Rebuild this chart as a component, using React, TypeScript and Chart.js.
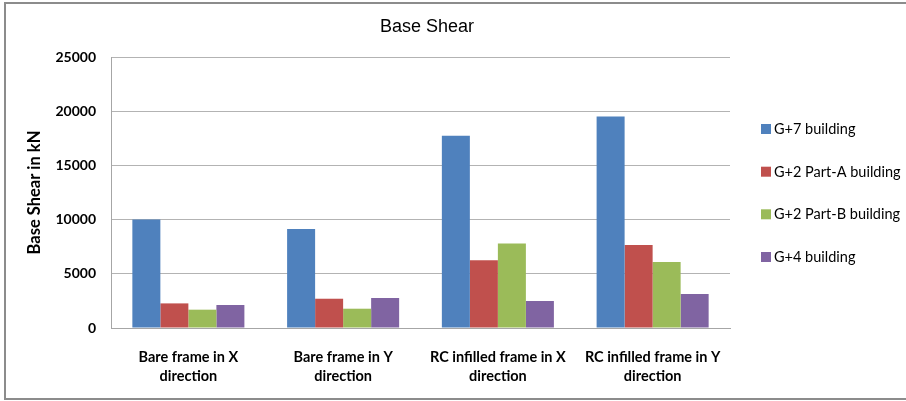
import React, { useEffect, useRef } from "react";
import { Chart, registerables } from "chart.js";

Chart.register(...registerables);

const categories: string[][] = [
  ["Bare frame in X", "direction"],
  ["Bare frame in Y", "direction"],
  ["RC infilled frame in X", "direction"],
  ["RC infilled frame in Y", "direction"],
];

const seriesNames = [
  "G+7 building",
  "G+2 Part-A building",
  "G+2 Part-B building",
  "G+4 building",
];

const g7Values = [10000, 9130, 17740, 19520];
const g2aValues = [2270, 2700, 6240, 7660];
const g2bValues = [1690, 1780, 7800, 6090];
const g4Values = [2120, 2770, 2490, 3140];

const seriesColors = ["#4F81BD", "#C0504D", "#9BBB59", "#8064A2"];

const yTicks = [0, 5000, 10000, 15000, 20000, 25000];

const chartTitle = "Base Shear";
const yAxisTitle = "Base Shear in kN";

const W = 906;
const H = 401;

// Outer frame, chart title and the right-hand legend
const decorations = {
  id: "decorations",
  afterDraw(chart: any) {
    const ctx = chart.ctx as CanvasRenderingContext2D;
    ctx.save();
    ctx.strokeStyle = "#8c8c8c";
    ctx.lineWidth = 2;
    ctx.strokeRect(5, 3, W + 10, 396);

    ctx.fillStyle = "#000";
    ctx.font = "18px 'Liberation Sans', Arial, sans-serif";
    ctx.textAlign = "center";
    ctx.textBaseline = "alphabetic";
    ctx.fillText(chartTitle, 427, 32);

    const rows = [129, 171.7, 214.3, 257];
    ctx.font = "14.5px Lato, sans-serif";
    ctx.textAlign = "left";
    chart.data.datasets.forEach((ds: any, i: number) => {
      const y = rows[i];
      ctx.fillStyle = ds.backgroundColor;
      ctx.fillRect(761, y - 5, 10, 10);
      ctx.fillStyle = "#000";
      ctx.fillText(ds.label, 774, y + 5);
    });
    ctx.restore();
  },
};

export default function App() {
  const ref = useRef<HTMLCanvasElement | null>(null);

  useEffect(() => {
    if (!ref.current) return;
    const values = [g7Values, g2aValues, g2bValues, g4Values];
    const chart = new Chart(ref.current, {
      type: "bar",
      data: {
        labels: categories,
        datasets: seriesNames.map((name, i) => ({
          label: name,
          data: values[i],
          backgroundColor: seriesColors[i],
          borderWidth: 0,
          categoryPercentage: 0.724,
          barPercentage: 1,
        })),
      },
      options: {
        animation: false,
        responsive: false,
        maintainAspectRatio: false,
        layout: { padding: { top: 57, right: 176, left: 0, bottom: 0 } },
        plugins: {
          legend: { display: false },
          title: { display: false },
          tooltip: { enabled: false },
        },
        scales: {
          x: {
            grid: { display: false, drawTicks: false },
            border: { display: true, color: "#a6a6a6", width: 1 },
            ticks: {
              color: "#000",
              padding: 20,
              maxRotation: 0,
              autoSkip: false,
              font: { family: "Lato, sans-serif", size: 14.5, weight: "bold", lineHeight: 1.31 },
            },
            afterFit(scale: any) {
              scale.height = H - 328;
            },
          },
          y: {
            min: 0,
            max: 25000,
            afterBuildTicks(scale: any) {
              scale.ticks = yTicks.map((v) => ({ value: v }));
            },
            grid: { color: "#b3b3b3", drawTicks: false },
            border: { display: true, color: "#a6a6a6", width: 1 },
            ticks: {
              color: "#000",
              padding: 15,
              font: { family: "Lato, sans-serif", size: 14, weight: "bold" },
              callback: (v: any) => String(v),
            },
            title: {
              display: true,
              text: yAxisTitle,
              color: "#000",
              padding: { top: 25, bottom: 0 },
              font: { family: "Lato, sans-serif", size: 16.5, weight: "bold" },
            },
            afterFit(scale: any) {
              scale.width = 111;
            },
          },
        },
      },
      plugins: [decorations],
    });
    return () => chart.destroy();
  }, []);

  return (
    <div style={{ position: "fixed", left: 0, top: 0, width: W, height: H, overflow: "hidden", background: "#fff" }}>
      <canvas ref={ref} width={W} height={H} style={{ display: "block", width: W, height: H }} />
    </div>
  );
}
